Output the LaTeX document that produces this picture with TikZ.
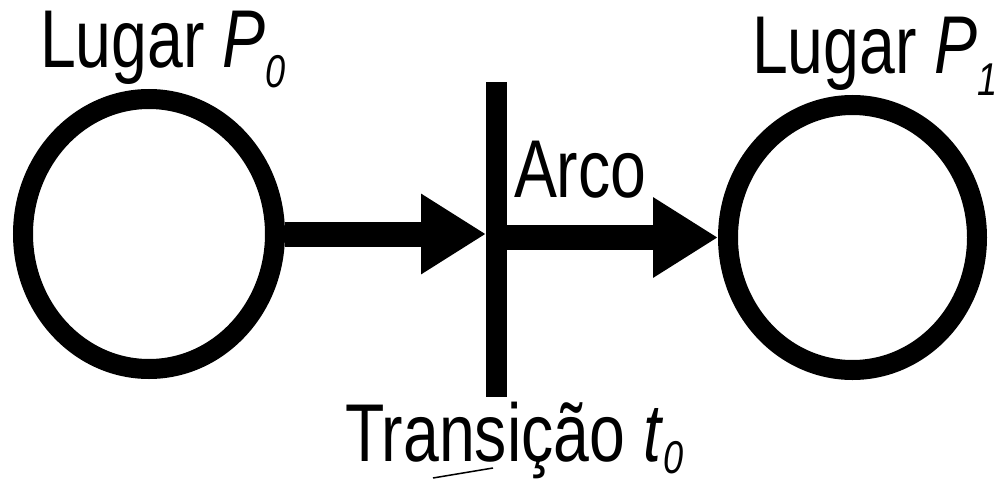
\documentclass[tikz,border=0pt]{standalone}
\usepackage{fontspec}
\setmainfont{Liberation Sans}
\usetikzlibrary{arrows.meta,shapes.geometric}
\tikzset{
  place/.style={ellipse, draw=black, line width=20pt, inner sep=0pt, fill=white},
  transbar/.style={rectangle, fill=black, draw=none, inner sep=0pt, outer sep=0pt, minimum width=21pt, minimum height=315pt},
  arc/.style={line width=25pt, -{Triangle[length=65pt, width=76pt]}},
  lbl/.style={anchor=base west, inner sep=0pt, outer sep=0pt, font=\fontsize{82}{86}\selectfont},
}
\newcommand{\sq}[1]{\scalebox{0.785}[1]{#1}}
\newcommand{\subdig}[2]{\raisebox{#1}{\fontsize{46}{46}\selectfont\itshape #2}}
\begin{document}
\begin{tikzpicture}[x=1pt, y=-1pt]
  \useasboundingbox (0,0) rectangle (997,479);
  \fill[white] (0,0) rectangle (997,479);
  \node[place, minimum width=252pt, minimum height=270pt] (p0) at (149,234) {};
  \node[place, minimum width=249pt, minimum height=265pt] (p1) at (852.5,237.5) {};
  \node[transbar] (t0) at (496.5,239.5) {};
  \draw[arc] (p0.east) -- (p0.east -| t0.west);
  \draw[arc] (t0.east |- p1.west) -- (p1.west);
  \node[lbl] (lp0) at (40,67) {\sq{Lugar \textit{P}\subdig{-20pt}{0}}};
  \node[lbl] (lp1) at (752,73) {\sq{Lugar \textit{P}\subdig{-22pt}{1}}};
  \node[lbl] (larc) at (514,197) {\sq{Arco}};
  \node[lbl] (lt0) at (345,461) {\sq{Transição \textit{t}\subdig{-12pt}{0}}};
  \coordinate (m1) at (433,478);
  \coordinate (m2) at (493,468);
  \draw[line width=1.5pt] (m1) -- (m2);
\end{tikzpicture}
\end{document}
